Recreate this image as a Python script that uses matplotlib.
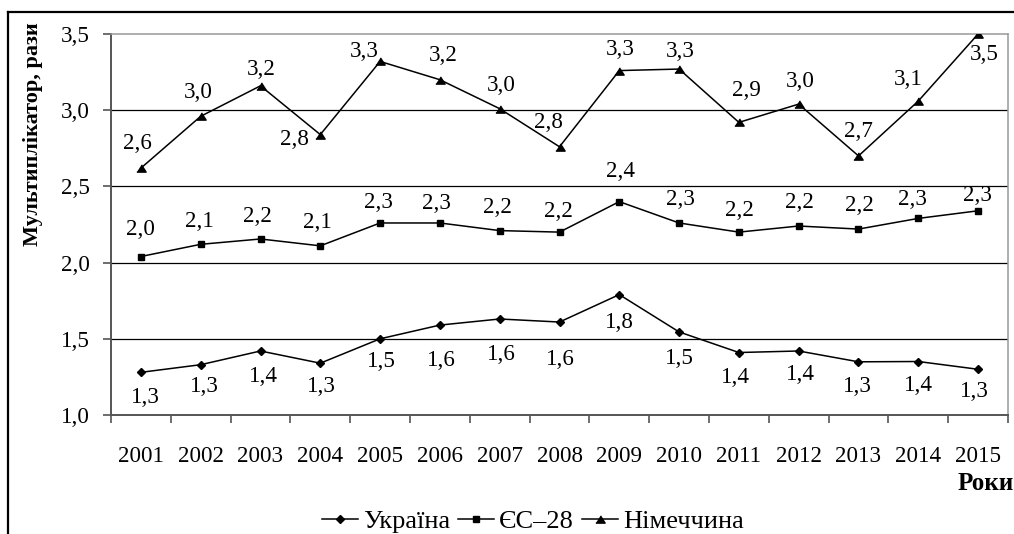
import numpy as np
import matplotlib
matplotlib.use("Agg")
import matplotlib.pyplot as plt
from matplotlib.lines import Line2D

plt.rcParams['font.family'] = ['Liberation Serif', 'DejaVu Serif']

years = [str(y) for y in range(2001, 2016)]
ukraine = [1.28, 1.33, 1.42, 1.34, 1.50, 1.59, 1.63, 1.61, 1.79, 1.545, 1.41, 1.42, 1.349, 1.351, 1.30]
eu28 = [2.04, 2.12, 2.155, 2.11, 2.26, 2.26, 2.21, 2.20, 2.40, 2.26, 2.20, 2.24, 2.22, 2.29, 2.34]
germany = [2.62, 2.96, 3.16, 2.84, 3.32, 3.20, 3.01, 2.76, 3.26, 3.27, 2.92, 3.04, 2.70, 3.06, 3.50]
names = ['Україна', 'ЄС–28', 'Німеччина']

# label offsets in pixels (dx right, dy down)
off_ua = [(5, 26), (4, 23), (3, 27), (1, 24), (1, 24), (2, 36), (2, 37), (1, 38),
          (0, 29), (0, 28), (-3, 26), (2, 25), (-1, 26), (0, 25), (-4, 23)]
off_eu = [(0, -26), (-1, -22), (-3, -21), (-3, -22), (-2, -19), (-3, -18), (-2, -22), (-1, -20),
          (1, -29), (1, -22), (1, -21), (1, -23), (1, -23), (-6, -18), (-1, -14)]
off_de = [(-3, -24), (-2, -23), (1, -15), (-26, 6), (-16, -9), (3, -23), (2, -22), (-11, -23),
          (1, -20), (1, -17), (8, -31), (2, -22), (0, -23), (-10, -21), (6, 22)]

fs = 16.6
fig = plt.figure(figsize=(10.14, 5.34), dpi=100)
ax = fig.add_axes([111 / 1014, 1 - 415 / 534, 897 / 1014, 381 / 534])

x = np.arange(len(years))
tri = [(-1, -0.78), (1, -0.78), (0, 0.78)]
series = [
    (ukraine, 'D', 3.7, off_ua),
    (eu28, 's', 5.0, off_eu),
    (germany, tri, 6.7, off_de),
]
for (vals, mk, ms, offs), nm in zip(series, names):
    ax.plot(x, vals, color='black', lw=1.1, marker=mk, ms=ms, label=nm, zorder=3)
    for xi, v, (dx, dy) in zip(x, vals, offs):
        ax.annotate(('%.1f' % v).replace('.', ','), (xi, v), xytext=(dx, -dy + 1),
                    textcoords='offset pixels', ha='center', va='center', fontsize=fs)

ax.set_xlim(-0.5, len(years) - 0.5)
ax.set_ylim(1.0, 3.5)
ax.set_yticks([1.0, 1.5, 2.0, 2.5, 3.0, 3.5])
ax.set_yticklabels(['1,0', '1,5', '2,0', '2,5', '3,0', '3,5'], fontsize=fs)
ax.set_xticks(np.arange(-0.5, len(years)), labels=[''] * (len(years) + 1))
ax.set_xticks(x, labels=years, minor=True, fontsize=fs)
ax.tick_params(axis='x', which='major', length=6, color='#555555', width=1.2)
ax.tick_params(axis='x', which='minor', length=0, pad=22)
ax.tick_params(axis='y', length=6, color='#555555', width=1.2, pad=9)
for yv in [1.5, 2.0, 2.5, 3.0]:
    ax.axhline(yv, color='black', lw=0.9, zorder=1)
for s in ['left', 'bottom']:
    ax.spines[s].set_color('#555555')
    ax.spines[s].set_linewidth(1.4)
for s in ['top', 'right']:
    ax.spines[s].set_color('#999999')
    ax.spines[s].set_linewidth(1.1)

fig.text(33 / 1014, 1 - 134 / 534, 'Мультиплікатор, рази', rotation=90,
         ha='center', va='center', fontsize=16, fontweight='bold')
fig.text(1014 / 1014, 1 - 484 / 534, 'Роки', ha='right', va='center',
         fontsize=18, fontweight='bold')

leg = fig.legend(loc='center', bbox_to_anchor=(533 / 1014, 1 - 521 / 534), ncol=3,
                 frameon=False, fontsize=19, handlelength=1.35, handletextpad=0.2,
                 columnspacing=0.3, borderaxespad=0, borderpad=0)

# outer border
fig.add_artist(Line2D([8 / 1014, 1.0], [1 - 12 / 534] * 2, color='black', lw=1.6,
                      transform=fig.transFigure))
fig.add_artist(Line2D([8 / 1014] * 2, [1 - 12 / 534, 0.0], color='black', lw=1.6,
                      transform=fig.transFigure))

fig.savefig('out.png', dpi=100)
